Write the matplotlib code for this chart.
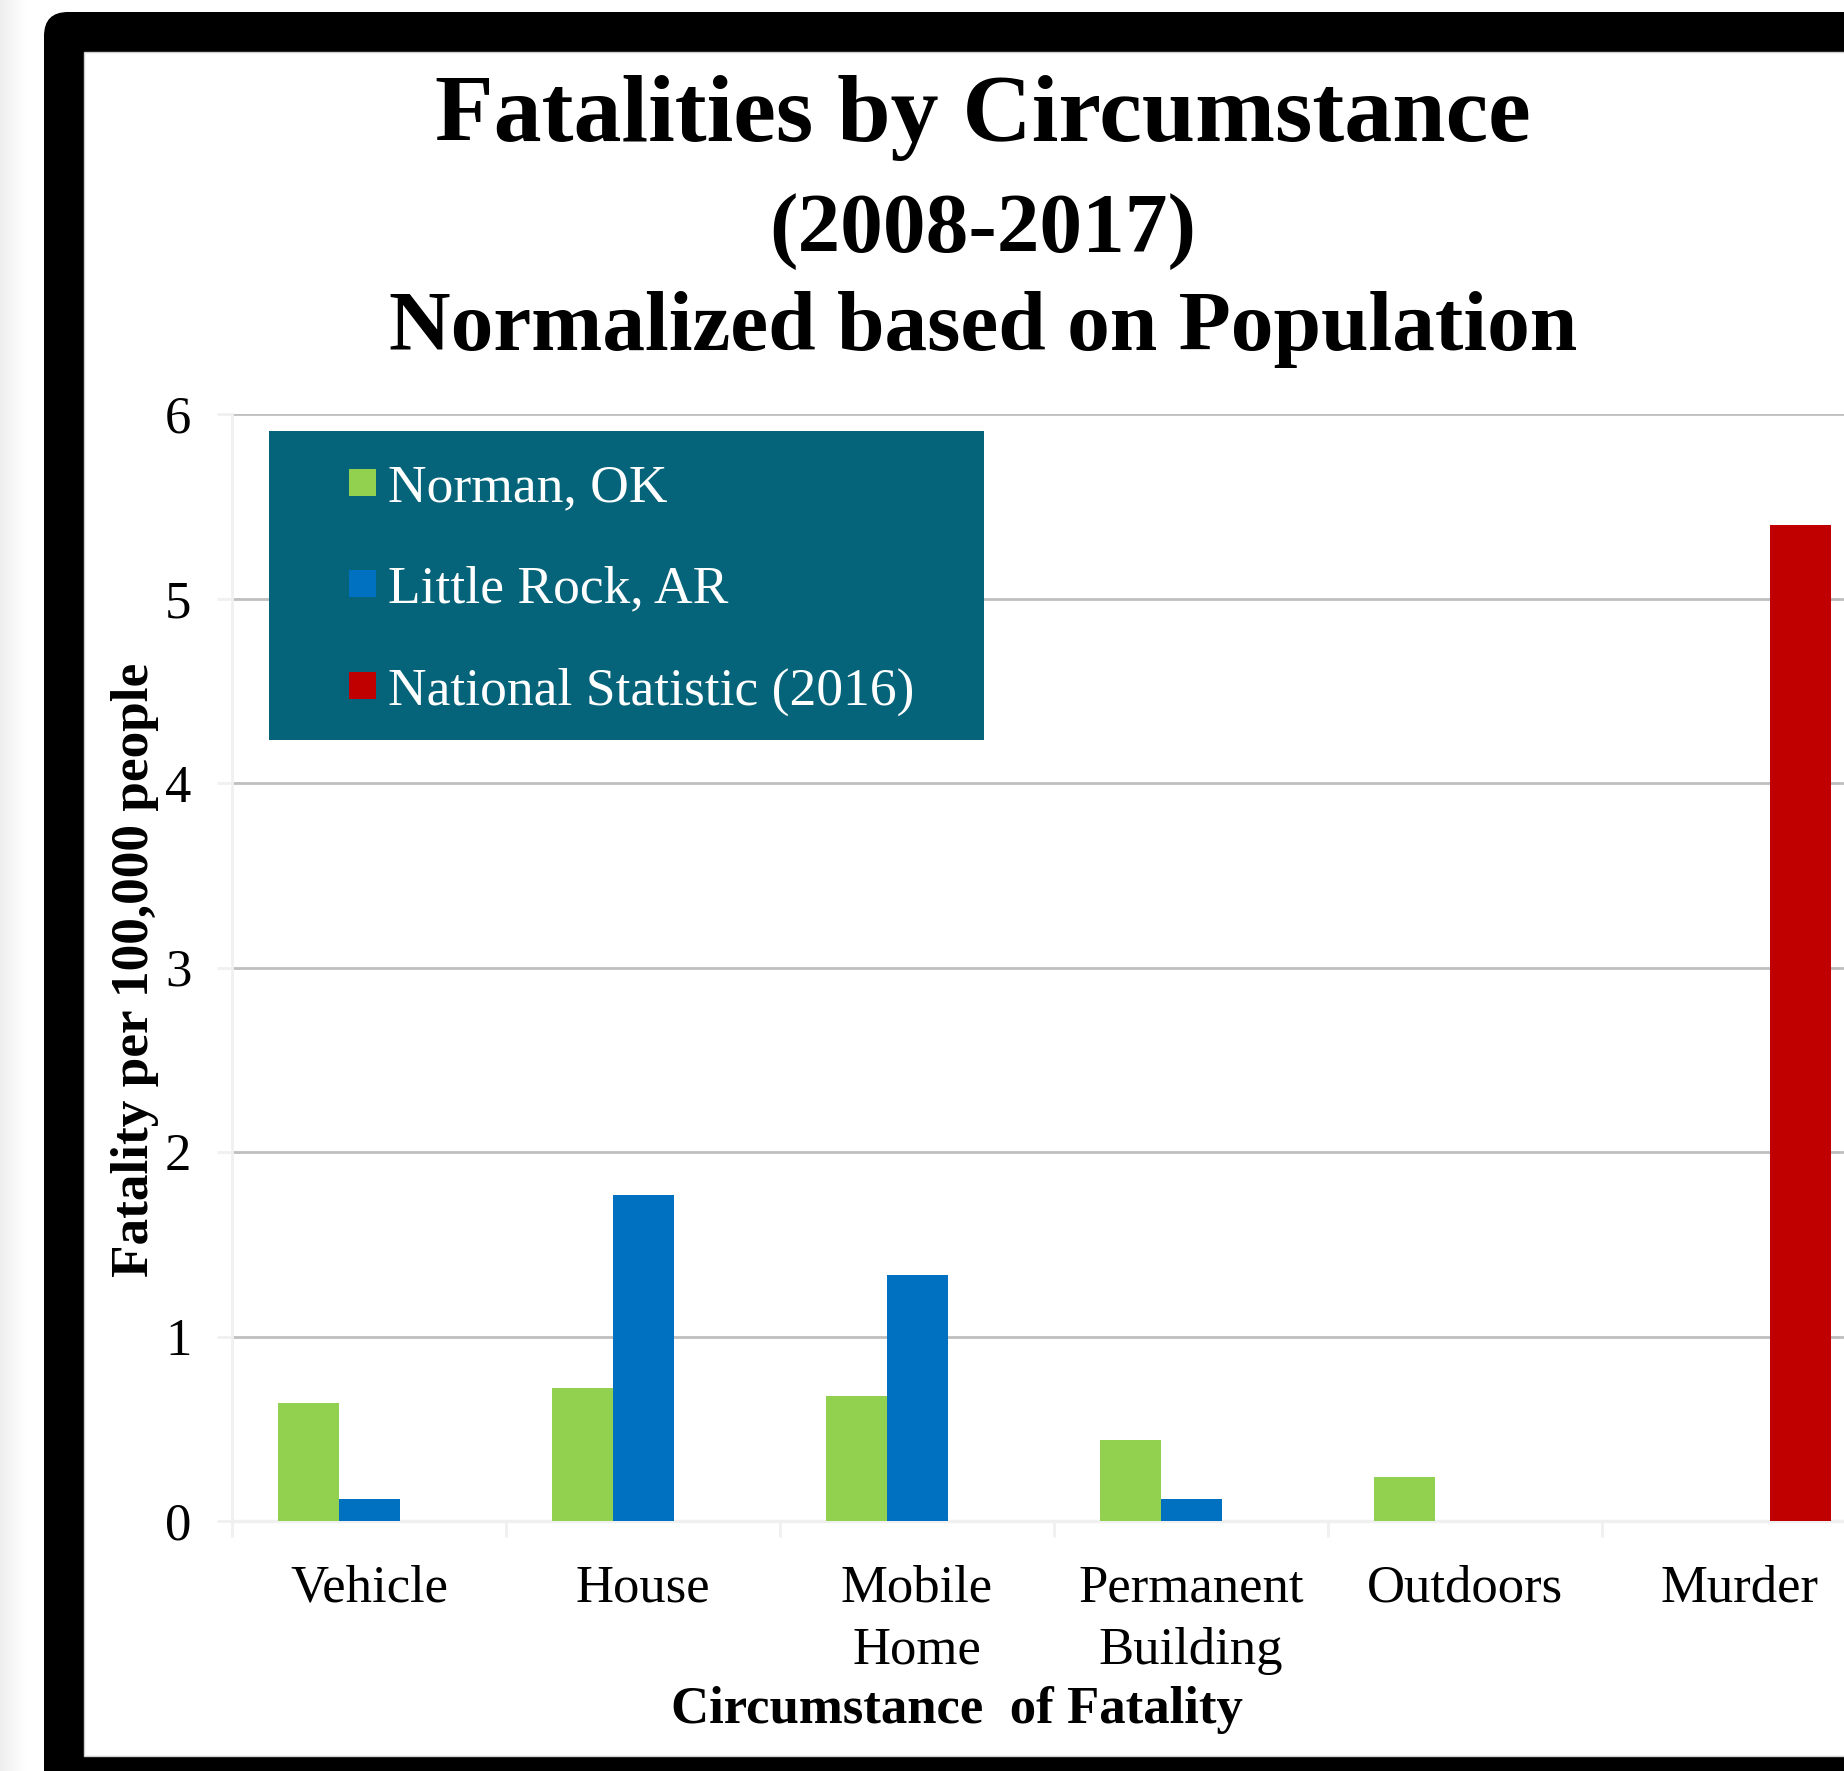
import matplotlib
matplotlib.use('Agg')
import matplotlib.pyplot as plt
from matplotlib.patches import FancyBboxPatch, Rectangle, Patch
from matplotlib.transforms import IdentityTransform
import numpy as np

# ---------------- data ----------------
categories = ['Vehicle', 'House', 'Mobile\nHome', 'Permanent\nBuilding', 'Outdoors', 'Murder']
norman = [0.64, 0.72, 0.68, 0.44, 0.24, 0.0]
little_rock = [0.12, 1.765, 1.335, 0.12, 0.0, 0.0]
national = [0.0, 0.0, 0.0, 0.0, 0.0, 5.40]
series_names = ['Norman, OK', 'Little Rock, AR', 'National Statistic (2016)']
yticks = [0, 1, 2, 3, 4, 5, 6]
title_lines = ['Fatalities by Circumstance', '(2008-2017)', 'Normalized based on Population']
xlabel = 'Circumstance  of Fatality'
ylabel = 'Fatality per 100,000 people'

# ---------------- style ----------------
colors = ['#92D050', '#0070C0', '#C00000']
W, H = 1844, 1771
DPI = 100
plt.rcParams['font.family'] = ['Liberation Serif', 'DejaVu Serif']


def fx(px):
    return px / W


def fy(py):  # py measured from top of image
    return 1 - py / H


fig = plt.figure(figsize=(W / DPI, H / DPI), dpi=DPI, facecolor='white')

# soft shadow on the left
sh = fig.add_axes([0, 0, fx(44), 1], zorder=-20)
sh.axis('off')
g = np.clip(np.linspace(0.935, 1.05, 64), 0, 1)[None, :]
sh.imshow(np.dstack([g, g, g]), aspect='auto', extent=[0, 1, 0, 1])

# black rounded frame (extends past right/bottom edge)
frame = FancyBboxPatch((44, -80), 2200, (H - 12) + 80,
                       boxstyle='round,pad=0,rounding_size=24',
                       transform=IdentityTransform(), facecolor='black',
                       edgecolor='none', zorder=-10)
fig.add_artist(frame)
inner = Rectangle((84, 15), 2200, (H - 52) - 15, transform=IdentityTransform(),
                  facecolor='white', edgecolor='#d0d0d0', lw=1, zorder=-9)
fig.add_artist(inner)

# ---------------- axes ----------------
ax = fig.add_axes([fx(232), fy(1521), (1876 - 232) / W, (1521 - 414) / H])
ax.patch.set_alpha(0)

x = np.arange(len(categories))
w = 61 / 274
for i, (vals, c, name) in enumerate(zip([norman, little_rock, national], colors, series_names)):
    ax.bar(x + (i - 1) * w, vals, width=w, color=c, label=name, zorder=3, linewidth=0)

ax.set_xlim(-0.5, len(categories) - 0.5)
ax.set_ylim(0, 6)
ax.set_yticks(yticks)
ax.yaxis.grid(True, color='#bfbfbf', lw=2.0)
ax.set_axisbelow(True)

for s in ['top', 'right']:
    ax.spines[s].set_visible(False)
ax.spines['left'].set_color('#f0f0f0')
ax.spines['left'].set_linewidth(2)
ax.spines['bottom'].set_color('#f0f0f0')
ax.spines['bottom'].set_linewidth(2.5)

ax.tick_params(axis='y', length=10.8, width=2, color='#f0f0f0', labelsize=38, pad=18.5)
ax.set_xticks(x)
ax.set_xticklabels(categories, fontsize=38, linespacing=1.38)
ax.set_xticks(np.arange(-0.5, len(categories)), minor=True)
ax.tick_params(axis='x', which='major', length=0, pad=31.5)
ax.tick_params(axis='x', which='minor', length=11.5, width=2, color='#f0f0f0')

# ---------------- titles / labels ----------------
fig.text(fx(983), fy(141), title_lines[0], fontsize=69, fontweight='bold', ha='center', va='baseline')
fig.text(fx(983), fy(252), title_lines[1], fontsize=61.5, fontweight='bold', ha='center', va='baseline')
fig.text(fx(983), fy(350), title_lines[2], fontsize=61.5, fontweight='bold', ha='center', va='baseline')
fig.text(fx(957), fy(1723), xlabel, fontsize=38, fontweight='bold', ha='center', va='baseline')
fig.text(fx(135), fy(970), ylabel, fontsize=38.3, fontweight='bold', ha='center', va='center', rotation=90)

# ---------------- legend ----------------
legbox = Rectangle((fx(269), fy(740)), fx(984) - fx(269), fy(431) - fy(740), transform=fig.transFigure,
                   facecolor='#05637A', edgecolor='none', zorder=4)
fig.add_artist(legbox)
handles = [Patch(facecolor=c, edgecolor='none') for c in colors]
leg = fig.legend(handles, series_names, loc='center left', bbox_to_anchor=(fx(349), fy(590)),
                 frameon=False, fontsize=38.5, labelcolor='white', handlelength=27 / 53.5,
                 handleheight=0.40, handletextpad=0.23, borderpad=0, borderaxespad=0,
                 labelspacing=1.0)
leg.set_zorder(6)

fig.savefig('out.png', dpi=DPI, facecolor='white')
